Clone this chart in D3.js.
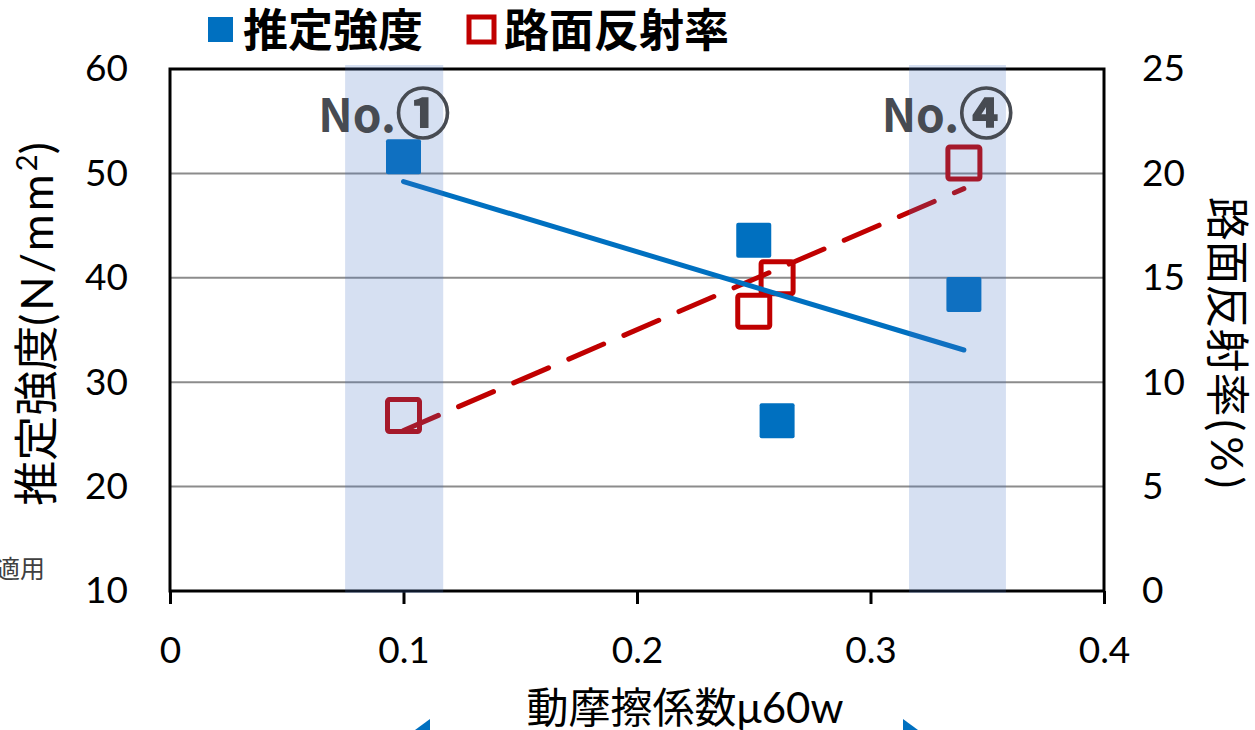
<!DOCTYPE html>
<html>
<head>
<meta charset="utf-8">
<script src="https://cdn.jsdelivr.net/npm/d3@7"></script>
<style>
  html, body { margin: 0; padding: 0; background: #fff; }
  svg { display: block; }
</style>
</head>
<body>
<svg id="chart" width="1255" height="730"></svg>
<script>
// Dynamic friction coefficient μ60w of each measured section
const friction = [0.10, 0.25, 0.26, 0.34];
// Estimated strength (N/mm2), left axis
const strength = [51.6, 43.6, 26.3, 38.4];
// Road surface reflectance (%), right axis
const reflectance = [8.4, 13.4, 15.0, 20.5];

const xTicks = [0, 0.1, 0.2, 0.3, 0.4];
const leftTicks = [10, 20, 30, 40, 50, 60];
const rightTicks = [0, 5, 10, 15, 20, 25];

// Highlighted sections (friction range) and their labels
const bandRanges = [[0.075, 0.117], [0.3165, 0.358]];
const bandPrefix = "No.";
const bandMarks = ["①", "④"];

const seriesNames = ["推定強度", "路面反射率"];

const plot = { left: 170, right: 1104, top: 69, bottom: 591 };

const BLUE = "#0070c0", RED = "#c00000";
const NUM_FONT = "Lato, 'Noto Sans CJK JP', sans-serif";
const JP_FONT = "'Noto Sans CJK JP', sans-serif";

const svg = d3.select("#chart");

const x = d3.scaleLinear().domain([0, 0.4]).range([plot.left, plot.right]);
const yL = d3.scaleLinear().domain([10, 60]).range([plot.bottom, plot.top]);
const yR = d3.scaleLinear().domain([0, 25]).range([plot.bottom, plot.top]);

// least-squares linear trend
function fit(xs, ys) {
  const mx = d3.mean(xs), my = d3.mean(ys);
  let sxy = 0, sxx = 0;
  xs.forEach((v, i) => { sxy += (v - mx) * (ys[i] - my); sxx += (v - mx) * (v - mx); });
  const b = sxy / sxx;
  return v => my + b * (v - mx);
}

// horizontal gridlines
svg.append("g")
  .selectAll("line")
  .data(leftTicks.filter(t => t > 10 && t < 60))
  .join("line")
  .attr("x1", plot.left).attr("x2", plot.right)
  .attr("y1", d => yL(d)).attr("y2", d => yL(d))
  .attr("stroke", "#8c8c8c").attr("stroke-width", 2);

// axes
const xAxis = svg.append("g")
  .attr("transform", `translate(0,${plot.bottom})`)
  .call(d3.axisBottom(x).tickValues(xTicks).tickFormat(d => d === 0 ? "0" : d3.format(".1f")(d))
    .tickSizeInner(13).tickSizeOuter(0).tickPadding(33));
const yAxisL = svg.append("g")
  .attr("transform", `translate(${plot.left},0)`)
  .call(d3.axisLeft(yL).tickValues(leftTicks).tickSize(0).tickPadding(42));
const yAxisR = svg.append("g")
  .attr("transform", `translate(${plot.right},0)`)
  .call(d3.axisRight(yR).tickValues(rightTicks).tickSize(0).tickPadding(38));

[xAxis, yAxisL, yAxisR].forEach(g => {
  g.select(".domain").remove();
  g.selectAll("line").attr("stroke", "#000").attr("stroke-width", 3);
  g.selectAll("text").attr("font-family", NUM_FONT).attr("font-size", 37).attr("fill", "#000");
});

// plot frame
svg.append("rect")
  .attr("x", plot.left).attr("y", plot.top)
  .attr("width", plot.right - plot.left).attr("height", plot.bottom - plot.top)
  .attr("fill", "none").attr("stroke", "#000").attr("stroke-width", 3);

// reflectance series (right axis)
const trendR = fit(friction, reflectance);
const xa = friction[0], xb = friction[friction.length - 1];
svg.append("line")
  .attr("x1", x(xa)).attr("y1", yR(trendR(xa)))
  .attr("x2", x(xb)).attr("y2", yR(trendR(xb)))
  .attr("stroke", RED).attr("stroke-width", 5).attr("stroke-linecap", "round")
  .attr("stroke-dasharray", "38 22");

const ms = 32;
svg.append("g").selectAll("rect")
  .data(friction.map((f, i) => [f, reflectance[i]]))
  .join("rect")
  .attr("x", d => x(d[0]) - ms / 2).attr("y", d => yR(d[1]) - ms / 2)
  .attr("width", ms).attr("height", ms).attr("rx", 2)
  .attr("fill", "none").attr("stroke", RED).attr("stroke-width", 5);

// strength series (left axis)
const bs = 35;
svg.append("g").selectAll("rect")
  .data(friction.map((f, i) => [f, strength[i]]))
  .join("rect")
  .attr("x", d => x(d[0]) - bs / 2).attr("y", d => yL(d[1]) - bs / 2)
  .attr("width", bs).attr("height", bs).attr("rx", 2)
  .attr("fill", BLUE);

const trendL = fit(friction, strength);
svg.append("line")
  .attr("x1", x(xa)).attr("y1", yL(trendL(xa)))
  .attr("x2", x(xb)).attr("y2", yL(trendL(xb)))
  .attr("stroke", BLUE).attr("stroke-width", 5).attr("stroke-linecap", "round");

// translucent highlight bands
svg.append("g").selectAll("rect")
  .data(bandRanges)
  .join("rect")
  .attr("x", d => x(d[0])).attr("width", d => x(d[1]) - x(d[0]))
  .attr("y", plot.top - 4).attr("height", plot.bottom - plot.top + 6)
  .attr("fill", "rgb(68,114,196)").attr("fill-opacity", 0.22);

const bl = svg.append("g").selectAll("text")
  .data(bandRanges)
  .join("text")
  .attr("x", d => (x(d[0]) + x(d[1])) / 2 - 10)
  .attr("y", 132)
  .attr("text-anchor", "middle")
  .attr("font-family", JP_FONT).attr("font-weight", 700).attr("font-size", 46)
  .attr("fill", "#474b52");
bl.append("tspan").text(bandPrefix);
bl.append("tspan").attr("font-size", 54).attr("dy", 2)
  .attr("stroke", "#474b52").attr("stroke-width", 1.6)
  .text((d, i) => bandMarks[i]);

// legend
const legend = svg.append("g");
legend.append("rect").attr("x", 208).attr("y", 17).attr("width", 25).attr("height", 25).attr("fill", BLUE);
legend.append("text").attr("x", 243).attr("y", 47)
  .attr("font-family", JP_FONT).attr("font-weight", 700).attr("font-size", 45).attr("fill", "#000")
  .text(seriesNames[0]);
legend.append("rect").attr("x", 469).attr("y", 17).attr("width", 25).attr("height", 25)
  .attr("fill", "none").attr("stroke", RED).attr("stroke-width", 5);
legend.append("text").attr("x", 504).attr("y", 47)
  .attr("font-family", JP_FONT).attr("font-weight", 700).attr("font-size", 45).attr("fill", "#000")
  .text(seriesNames[1]);

// axis titles
svg.append("text")
  .attr("x", 685).attr("y", 723)
  .attr("text-anchor", "middle")
  .attr("font-family", NUM_FONT).attr("font-size", 42).attr("fill", "#000")
  .text("動摩擦係数μ60w");

const lt = svg.append("text")
  .attr("transform", "translate(53,324) rotate(-90)")
  .attr("text-anchor", "middle")
  .attr("font-family", NUM_FONT).attr("font-size", 45).attr("fill", "#000");
lt.append("tspan").text("推定強度");
lt.append("tspan").attr("letter-spacing", 3).text("(N/mm");
lt.append("tspan").attr("font-size", 29).attr("dy", -16).text("2");
lt.append("tspan").attr("dy", 16).text(")");

const rt = svg.append("text")
  .attr("transform", "translate(1211,345) rotate(90)")
  .attr("text-anchor", "middle")
  .attr("font-family", NUM_FONT).attr("font-size", 44).attr("fill", "#000");
rt.append("tspan").text("路面反射率");
rt.append("tspan").attr("letter-spacing", 5).attr("dx", 3).text("(%)");

// edge fragments of neighbouring annotations
svg.append("text")
  .attr("x", 45).attr("y", 578)
  .attr("text-anchor", "end")
  .attr("font-family", JP_FONT).attr("font-size", 25).attr("fill", "#404040")
  .text("適用");
svg.append("path").attr("d", "M430,719 L430,730 L415,730 Z").attr("fill", BLUE);
svg.append("path").attr("d", "M903,719 L903,730 L918,730 Z").attr("fill", BLUE);
</script>
</body>
</html>
